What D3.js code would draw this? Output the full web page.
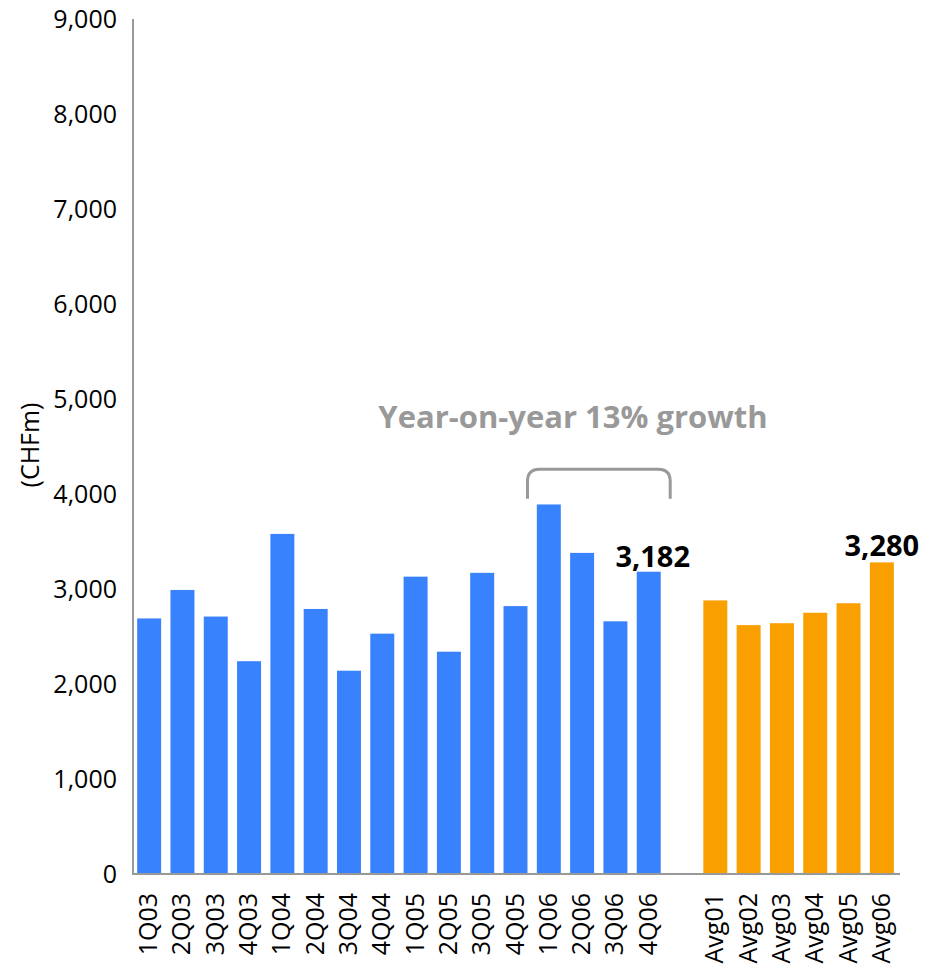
<!DOCTYPE html>
<html>
<head>
<meta charset="utf-8">
<script src="https://cdn.jsdelivr.net/npm/d3@7"></script>
<style>
  body { margin: 0; background: #fff; }
  svg { display: block; font-family: "Open Sans", "Noto Sans", sans-serif; }
</style>
</head>
<body>
<svg id="chart" width="943" height="973"></svg>
<script>
// Quarterly figures (CHFm)
const quarters = ["1Q03","2Q03","3Q03","4Q03","1Q04","2Q04","3Q04","4Q04",
                  "1Q05","2Q05","3Q05","4Q05","1Q06","2Q06","3Q06","4Q06"];
const quarterValues = [2690, 2990, 2710, 2240, 3580, 2790, 2140, 2530,
                       3130, 2340, 3170, 2820, 3890, 3380, 2660, 3182];

// Annual averages (CHFm)
const years = ["Avg01","Avg02","Avg03","Avg04","Avg05","Avg06"];
const yearValues = [2880, 2620, 2640, 2750, 2850, 3280];

const yTicks = [0, 1000, 2000, 3000, 4000, 5000, 6000, 7000, 8000, 9000];
const axisTitle = "(CHFm)";
const growthNote = "Year-on-year 13% growth";
const labelledQuarter = "4Q06";
const labelledYear = "Avg06";

const svg = d3.select("#chart");
const BLUE = "#3982FE", ORANGE = "#F9A000", GREY = "#999999";

const axisX = 133, baseY = 874;
const SPACER = "__gap__";
const domain = [...quarters, SPACER, ...years];

const x = d3.scaleBand().domain(domain).range([132.5, 898.5])
  .paddingInner(0.28).paddingOuter(0.14);
const y = d3.scaleLinear().domain([0, 9000]).range([baseY, 19]);

const quarterData = quarters.map((k, i) => ({ key: k, value: quarterValues[i] }));
const yearData = years.map((k, i) => ({ key: k, value: yearValues[i] }));

// bars
svg.append("g").selectAll("rect").data(quarterData).join("rect")
  .attr("x", d => x(d.key)).attr("width", x.bandwidth())
  .attr("y", d => y(d.value)).attr("height", d => y(0) - y(d.value))
  .attr("fill", BLUE);
svg.append("g").selectAll("rect").data(yearData).join("rect")
  .attr("x", d => x(d.key)).attr("width", x.bandwidth())
  .attr("y", d => y(d.value)).attr("height", d => y(0) - y(d.value))
  .attr("fill", ORANGE);

// axes lines
svg.append("line").attr("x1", axisX).attr("x2", axisX)
  .attr("y1", y(9000)).attr("y2", baseY + 1)
  .attr("stroke", GREY).attr("stroke-width", 2);
svg.append("line").attr("x1", axisX - 1).attr("x2", 900)
  .attr("y1", baseY).attr("y2", baseY)
  .attr("stroke", GREY).attr("stroke-width", 2);

// y tick labels
const fmt = d3.format(",");
svg.append("g").selectAll("text").data(yTicks).join("text")
  .attr("x", 117).attr("y", d => y(d)).attr("dy", "0.36em")
  .attr("text-anchor", "end").attr("font-size", 25).attr("fill", "#000")
  .text(d => fmt(d));

// category labels (rotated)
svg.append("g").selectAll("text").data([...quarters, ...years]).join("text")
  .attr("transform", d => `translate(${x(d) + x.bandwidth() / 2 - 1},893) rotate(-90)`)
  .attr("dy", "0.36em")
  .attr("text-anchor", "end").attr("font-size", 25).attr("fill", "#000")
  .text(d => d);

// axis title
svg.append("text")
  .attr("transform", "translate(30,445) rotate(-90)")
  .attr("dy", "0.36em").attr("text-anchor", "middle")
  .attr("font-size", 25).attr("fill", "#000")
  .text(axisTitle);

// value labels
const lq = quarterData.find(d => d.key === labelledQuarter);
const ly = yearData.find(d => d.key === labelledYear);
svg.append("text")
  .attr("x", x(lq.key) + x.bandwidth() / 2 + 4).attr("y", y(lq.value) - 5)
  .attr("text-anchor", "middle").attr("font-size", 29).attr("font-weight", 700)
  .attr("fill", "#000").text(fmt(lq.value));
svg.append("text")
  .attr("x", x(ly.key) + x.bandwidth() / 2).attr("y", y(ly.value) - 6)
  .attr("text-anchor", "middle").attr("font-size", 29).attr("font-weight", 700)
  .attr("fill", "#000").text(fmt(ly.value));

// growth bracket over the last five quarters
const bx0 = x("4Q05") + x.bandwidth();
const bx1 = x("4Q06") + x.bandwidth() + 9.5;
const bTop = y(4260), bBot = y(3950), r = 12;
svg.append("path")
  .attr("d", `M${bx0},${bBot} L${bx0},${bTop + r} Q${bx0},${bTop} ${bx0 + r},${bTop}
              L${bx1 - r},${bTop} Q${bx1},${bTop} ${bx1},${bTop + r} L${bx1},${bBot}`)
  .attr("fill", "none").attr("stroke", GREY).attr("stroke-width", 3);

svg.append("text")
  .attr("x", 573).attr("y", 428).attr("text-anchor", "middle")
  .attr("font-size", 31).attr("font-weight", 700).attr("fill", GREY)
  .text(growthNote);
</script>
</body>
</html>
